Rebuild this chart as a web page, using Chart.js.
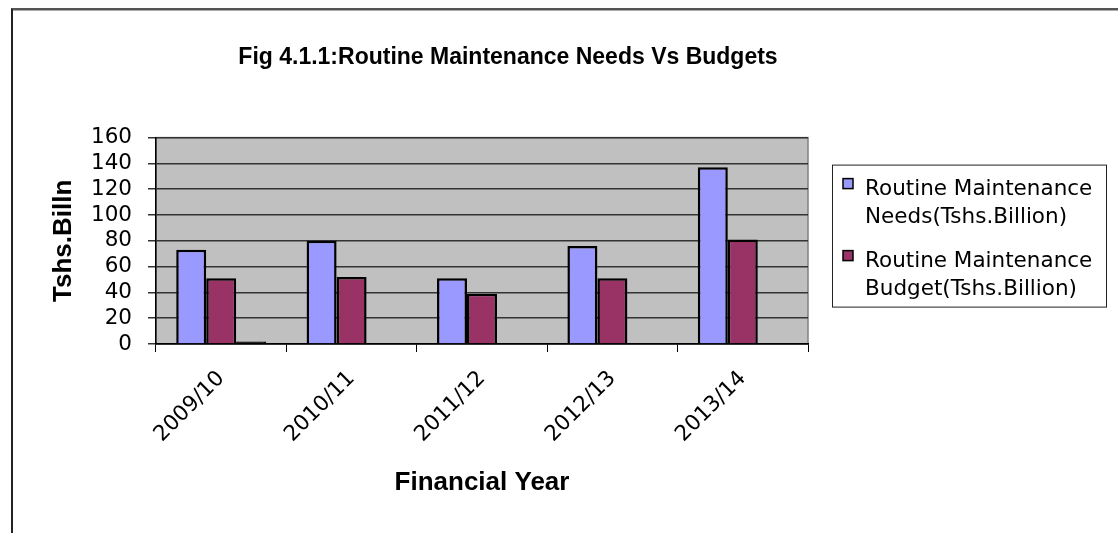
<!DOCTYPE html>
<html>
<head>
<meta charset="utf-8">
<script src="https://cdn.jsdelivr.net/npm/chart.js@4.4.1/dist/chart.umd.min.js"></script>
<style>
  html, body { margin: 0; padding: 0; background: #fff; overflow: hidden; }
  #frame { position: absolute; left: 11px; top: 8px; width: 1200px; height: 600px;
           border-left: 2px solid #222; border-top: 2px solid #555; box-shadow: inset 0 1px 0 #aaa; }
  #wrap { position: absolute; left: 0; top: 0; width: 1118px; height: 533px; }
</style>
</head>
<body>
<div id="frame"></div>
<div id="wrap"><canvas id="chart"></canvas></div>
<script>
// values (Tshs. billion)
const years = ['2009/10', '2010/11', '2011/12', '2012/13', '2013/14'];
const needs = [73, 80, 51, 76, 137];
const budget = [51, 52, 39, 51, 81];
const unnamed = [2, null, null, null, null]; // small unlabelled bar in 2009/10
const legendLabels = [
    ['Routine Maintenance', 'Needs(Tshs.Billion)'],
    ['Routine Maintenance', 'Budget(Tshs.Billion)']
];
const colors = ['#9999FF', '#993366', '#000000'];

Chart.defaults.font.family = '"DejaVu Sans", sans-serif';
Chart.defaults.color = '#000';

// grey plot area like the Excel original
const plotBg = {
    id: 'plotBg',
    beforeDraw(chart) {
        const {ctx, chartArea: a} = chart;
        ctx.save();
        ctx.fillStyle = '#C0C0C0';
        ctx.fillRect(a.left, a.top, a.width, a.height);
        ctx.strokeStyle = '#808080';
        ctx.lineWidth = 1.5;
        ctx.strokeRect(a.left, a.top, a.width, a.height);
        ctx.restore();
    }
};

// legend on the right with two-line labels, as its own layout box
const sideLegend = {
    id: 'sideLegend',
    beforeInit(chart) {
        const box = {
            position: 'right', weight: 10, fullSize: false, options: {},
            isHorizontal() { return false; },
            update(maxWidth, maxHeight) { this.width = 208; this.height = maxHeight; },
            draw() {
                const ctx = chart.ctx;
                const x = this.left + 24, y = chart.chartArea.top + 27;
                ctx.save();
                ctx.fillStyle = '#fff';
                ctx.strokeStyle = '#222';
                ctx.lineWidth = 1;
                ctx.fillRect(x, y, 274, 142);
                ctx.strokeRect(x + 0.5, y + 0.5, 274, 142);
                ctx.font = '21.5px "DejaVu Sans"';
                ctx.textBaseline = 'alphabetic';
                legendLabels.forEach((lines, i) => {
                    const iy = y + 14 + i * 72;
                    ctx.fillStyle = chart.data.datasets[i].backgroundColor;
                    ctx.fillRect(x + 11, iy, 10, 10);
                    ctx.strokeStyle = '#000';
                    ctx.lineWidth = 1.5;
                    ctx.strokeRect(x + 11, iy, 10, 10);
                    ctx.fillStyle = '#000';
                    lines.forEach((t, j) => ctx.fillText(t, x + 33, iy + 16 + j * 28));
                });
                ctx.restore();
            }
        };
        Chart.layouts.addBox(chart, box);
    }
};

const barStyle = {
    borderColor: '#000',
    borderWidth: 2.5,
    categoryPercentage: 0.69,
    barPercentage: 1
};

new Chart(document.getElementById('chart'), {
    type: 'bar',
    data: {
        labels: years,
        datasets: [
            Object.assign({label: legendLabels[0].join(' '), data: needs, backgroundColor: colors[0]}, barStyle),
            Object.assign({label: legendLabels[1].join(' '), data: budget, backgroundColor: colors[1]}, barStyle),
            Object.assign({label: '', data: unnamed, backgroundColor: colors[2]}, barStyle)
        ]
    },
    options: {
        responsive: true,
        maintainAspectRatio: false,
        animation: false,
        layout: { padding: { left: 0, right: 102, top: 0, bottom: 0 } },
        plugins: {
            legend: { display: false },
            tooltip: { enabled: false },
            title: {
                display: true,
                text: 'Fig 4.1.1:Routine Maintenance Needs Vs Budgets',
                font: { family: '"Liberation Sans", Arial', size: 23, weight: 'bold' },
                color: '#000',
                padding: { top: 44, bottom: 66 }
            }
        },
        scales: {
            x: {
                grid: { drawOnChartArea: false, offset: true, tickLength: 8, color: '#000', lineWidth: 1 },
                border: { color: '#000', width: 1.5 },
                ticks: { minRotation: 45, maxRotation: 45, autoSkip: false, padding: 14, font: { size: 21.5 } },
                title: {
                    display: true,
                    text: 'Financial Year',
                    font: { family: '"Liberation Sans", Arial', size: 26, weight: 'bold' },
                    padding: { top: 0, bottom: 35 }
                },
                afterFit(scale) { scale.height = 189; }
            },
            y: {
                min: 0,
                max: 160,
                ticks: { stepSize: 20, autoSkip: false, padding: 16, font: { size: 21.5 } },
                grid: { color: '#333', lineWidth: 1.5, tickLength: 8 },
                border: { color: '#000', width: 1.5 },
                title: {
                    display: true,
                    text: 'Tshs.Billn',
                    font: { family: '"Liberation Sans", Arial', size: 26, weight: 'bold' },
                    padding: { top: 48, bottom: 0 }
                },
                afterFit(scale) { scale.width = 156; }
            }
        }
    },
    plugins: [plotBg, sideLegend]
});
</script>
</body>
</html>
